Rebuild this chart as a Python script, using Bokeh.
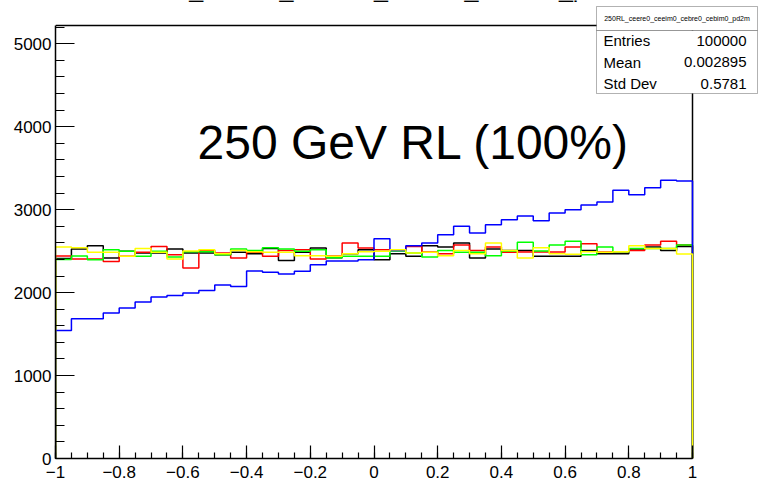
import numpy as np
from bokeh.plotting import figure
from bokeh.models import FixedTicker, Label, BoxAnnotation, Range1d
from bokeh.embed import file_html
from bokeh.resources import INLINE

# ---------------- data ----------------
x_min, x_max = -1.0, 1.0
n_bins = 40
y_max = 5220

blue = [1544, 1685, 1685, 1753, 1813, 1886, 1946, 1966, 1994, 2026,
        2091, 2075, 2260, 2244, 2223, 2256, 2336, 2380, 2380, 2397,
        2650, 2509, 2566, 2597, 2698, 2799, 2718, 2819, 2879, 2923,
        2867, 2959, 3000, 3056, 3092, 3233, 3181, 3265, 3353, 3345]
black = [2410, 2525, 2565, 2416, 2497, 2477, 2477, 2525, 2477, 2477,
         2457, 2485, 2469, 2533, 2388, 2485, 2537, 2421, 2469, 2517,
         2396, 2469, 2437, 2565, 2549, 2598, 2416, 2525, 2509, 2509,
         2437, 2437, 2437, 2509, 2469, 2469, 2525, 2549, 2509, 2557]
red = [2441, 2405, 2405, 2376, 2437, 2485, 2557, 2457, 2296, 2509,
       2477, 2416, 2485, 2437, 2509, 2517, 2405, 2441, 2597, 2537,
       2517, 2509, 2557, 2489, 2469, 2573, 2509, 2549, 2485, 2489,
       2489, 2489, 2549, 2589, 2489, 2493, 2509, 2573, 2618, 2573]
green = [2400, 2441, 2396, 2517, 2497, 2437, 2497, 2429, 2493, 2493,
         2457, 2525, 2509, 2541, 2525, 2497, 2517, 2421, 2437, 2437,
         2437, 2501, 2477, 2429, 2509, 2485, 2485, 2445, 2501, 2606,
         2501, 2573, 2618, 2457, 2549, 2493, 2533, 2533, 2533, 2573]
yellow = [2549, 2541, 2485, 2485, 2437, 2533, 2485, 2405, 2501, 2517,
          2469, 2509, 2493, 2485, 2485, 2445, 2445, 2437, 2469, 2493,
          2497, 2517, 2477, 2485, 2445, 2509, 2469, 2598, 2509, 2416,
          2541, 2469, 2461, 2493, 2485, 2493, 2565, 2533, 2533, 2465]

x_ticks = [-1, -0.8, -0.6, -0.4, -0.2, 0, 0.2, 0.4, 0.6, 0.8, 1]
x_tick_labels = ["\u22121", "\u22120.8", "\u22120.6", "\u22120.4", "\u22120.2",
                 "0", "0.2", "0.4", "0.6", "0.8", "1"]
y_ticks = [0, 1000, 2000, 3000, 4000, 5000]
y_tick_labels = ["0", "1000", "2000", "3000", "4000", "5000"]

title_text = "250RL_ceere0_ceeim0_cebre0_cebim0_pd2m"
big_label = "250 GeV RL (100%)"
stats_names = ["Entries", "Mean", "Std Dev"]
stats_values = ["100000", "0.002895", "0.5781"]

# ---------------- layout (pixels) ----------------
W, H = 764, 483
L, B = 55, 25                 # frame-left and frame-bottom borders
AX_RIGHT_PX, AX_TOP_PX = 692, 25   # where the histogram frame ends
px_per_x = (AX_RIGHT_PX - L) / (x_max - x_min)
px_per_y = (H - B - AX_TOP_PX) / y_max


def xd(px):
    return x_min + (px - L) / px_per_x


def yd(py):
    return (H - B - py) / px_per_y


edges = np.linspace(x_min, x_max, n_bins + 1)


def step_xy(vals):
    xs, ys = [edges[0]], [0]
    for i, v in enumerate(vals):
        xs += [edges[i], edges[i + 1]]
        ys += [v, v]
    xs.append(edges[-1])
    ys.append(0)
    return xs, ys


p = figure(width=W, height=H, x_range=Range1d(x_min, xd(W)), y_range=Range1d(0, yd(0)),
           output_backend="svg", toolbar_location=None,
           min_border_left=L, min_border_right=0, min_border_top=0, min_border_bottom=B)
p.grid.visible = False
p.outline_line_color = None
p.background_fill_color = "white"
p.border_fill_color = "white"

font = "Liberation Sans"
for ax in (p.xaxis[0], p.yaxis[0]):
    ax.axis_line_color = "black"
    ax.axis_line_width = 1.5
    ax.major_tick_line_color = "black"
    ax.minor_tick_line_color = "black"
    ax.major_tick_line_width = 1.2
    ax.minor_tick_line_width = 1.2
    ax.major_tick_out = 0
    ax.minor_tick_out = 0
    ax.major_label_text_font = font
    ax.major_label_text_font_size = "17px"
    ax.major_label_text_color = "black"

p.xaxis.bounds = (x_min, x_max)
p.yaxis.bounds = (0, y_max)
p.xaxis.ticker = FixedTicker(ticks=x_ticks,
                             minor_ticks=list(np.round(np.arange(x_min, x_max + 1e-9, 0.05), 3)))
p.xaxis.major_label_overrides = {t: s for t, s in zip(x_ticks, x_tick_labels)}
p.xaxis.major_tick_in = 13
p.xaxis.minor_tick_in = 6
p.xaxis.major_label_standoff = 7

p.yaxis.ticker = FixedTicker(ticks=y_ticks, minor_ticks=list(range(0, 5201, 200)))
p.yaxis.major_label_overrides = {t: s for t, s in zip(y_ticks, y_tick_labels)}
p.yaxis.major_tick_in = 19
p.yaxis.minor_tick_in = 9
p.yaxis.major_label_standoff = 4

# frame top and right edges
p.line([x_min, x_max, x_max], [y_max, y_max, 0], line_color="black", line_width=1.5)

for vals, col in [(black, "#000000"), (red, "#ff0000"), (green, "#00ff00"),
                  (blue, "#0000ff"), (yellow, "#ffff00")]:
    xs, ys = step_xy(vals)
    p.line(xs, ys, line_color=col, line_width=1.5)

# big annotation
p.add_layout(Label(x=xd(197), y=yd(142), text=big_label, text_font=font,
                   text_font_size="48px", text_color="black", text_baseline="middle"))

# histogram title, mostly cut off at the top edge as in the original
p.add_layout(Label(x=xd(375), y=yd(1.5), text=title_text, text_font=font,
                   text_font_size="25px", text_color="black", text_align="center",
                   text_baseline="bottom"))

# stats box
p.add_layout(BoxAnnotation(left=xd(596), right=xd(757), top=yd(6), bottom=yd(30),
                           fill_color="white", fill_alpha=1, line_color="black", line_width=1))
p.add_layout(BoxAnnotation(left=xd(596), right=xd(757), top=yd(30), bottom=yd(93),
                           fill_color="white", fill_alpha=1, line_color="black", line_width=1))
p.add_layout(Label(x=xd(676.5), y=yd(18), text=title_text, text_font=font,
                   text_font_size="7px", text_color="black", text_align="center",
                   text_baseline="middle"))
for i, (nm, vv) in enumerate(zip(stats_names, stats_values)):
    yc = 40 + i * 21.5
    p.add_layout(Label(x=xd(603), y=yd(yc), text=nm, text_font=font, text_font_size="15px",
                       text_color="black", text_baseline="middle"))
    p.add_layout(Label(x=xd(746), y=yd(yc), text=vv, text_font=font, text_font_size="15px",
                       text_color="black", text_baseline="middle", text_align="right"))

open("out.html", "w").write(file_html(p, INLINE))
